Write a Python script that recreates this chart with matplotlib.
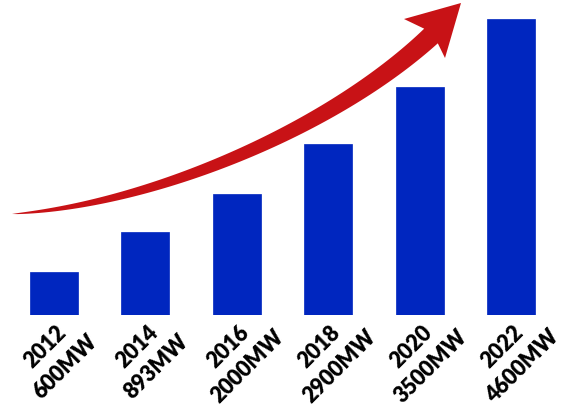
import numpy as np
import matplotlib.pyplot as plt
from matplotlib.patches import Polygon

years = ['2012', '2014', '2016', '2018', '2020', '2022']
capacity = ['600MW', '893MW', '2000MW', '2900MW', '3500MW', '4600MW']
# bar heights as drawn (not proportional to the MW labels)
heights = [43, 83, 121, 171, 228, 296]

W, H = 565, 408
fig = plt.figure(figsize=(W / 100, H / 100), dpi=100)
ax = fig.add_axes([8.3 / W, 93 / H, 548.4 / W, 300 / H])

x = np.arange(len(years))
ax.bar(x, heights, width=0.525, color='#0026BF', edgecolor='#0026BF', linewidth=0.5)

ax.set_xlim(-0.5, len(years) - 0.5)
ax.set_ylim(0, 300)
ax.axis('off')

for xi, yr, cap in zip(x, years, capacity):
    ax.annotate(yr + '\n' + cap, xy=(xi, 0), xytext=(1, -30), textcoords='offset points',
                ha='center', va='center', rotation=45, rotation_mode='anchor',
                multialignment='center', fontsize=15.5, fontweight='heavy',
                family=['Lato', 'DejaVu Sans'], linespacing=1.4, annotation_clip=False)

# decorative growth arrow (pixel coords, y down), tapered tail
p0, p1, p2, p3 = map(np.array, [(12, 214), (150, 205), (330, 130), (431, 36)])
t = np.linspace(0, 1, 80)[:, None]
curve = (1 - t)**3 * p0 + 3 * (1 - t)**2 * t * p1 + 3 * (1 - t) * t**2 * p2 + t**3 * p3
deriv = 3 * (1 - t)**2 * (p1 - p0) + 6 * (1 - t) * t * (p2 - p1) + 3 * t**2 * (p3 - p2)
deriv = deriv / np.linalg.norm(deriv, axis=1)[:, None]
normal = np.column_stack([-deriv[:, 1], deriv[:, 0]])
w = 20 * t**0.7
upper = curve - normal * w / 2
lower = curve + normal * w / 2
head = np.array([(404, 19), (461, 3), (445, 58)])
pts = np.vstack([upper, head, lower[::-1]])
pts = np.column_stack([pts[:, 0] / W, 1 - pts[:, 1] / H])
fig.patches.append(Polygon(pts, closed=True, transform=fig.transFigure,
                           facecolor='#C81216', edgecolor='none'))

plt.savefig('out.png', dpi=100)
